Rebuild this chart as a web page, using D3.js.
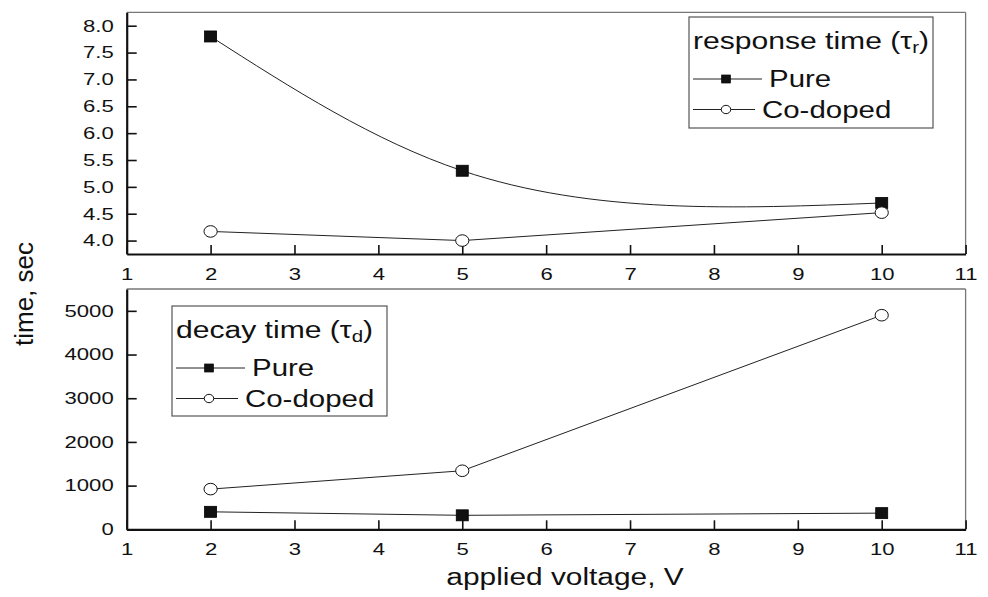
<!DOCTYPE html>
<html>
<head>
<meta charset="utf-8">
<script src="https://cdn.jsdelivr.net/npm/d3@7"></script>
<style>
  body { margin: 0; background: #fff; }
  svg { display: block; }
  text { font-family: "Liberation Sans", Arial, sans-serif; fill: #111; }
</style>
</head>
<body>
<div id="canvas"></div>
<script>
// data
var voltages = [2, 5, 10];
var responsePure = [7.8, 5.3, 4.7];
var responseCodoped = [4.17, 4.0, 4.52];
var decayPure = [400, 320, 370];
var decayCodoped = [920, 1340, 4900];

var xTicks = [1, 2, 3, 4, 5, 6, 7, 8, 9, 10, 11];
var responseTicks = [4.0, 4.5, 5.0, 5.5, 6.0, 6.5, 7.0, 7.5, 8.0];
var decayTicks = [0, 1000, 2000, 3000, 4000, 5000];
var seriesNames = ['Pure', 'Co-doped'];

var W = 988, H = 597;
var SX = 1.34; // tick labels: the original print is stretched sideways
var SXL = 1.28; // legend and axis titles

var svg = d3.select('#canvas').append('svg')
    .attr('width', W)
    .attr('height', H);

var x = d3.scaleLinear().domain([1, 11]).range([126.7, 965.6]);

// natural cubic spline, parametrised by chord length
function curveSpline(context) {
  var xs, ys;
  function slopes(t, v) {
    var n = v.length, M = new Array(n).fill(0);
    var a = [], b = [], c = [], r = [];
    for (var i = 1; i < n - 1; i++) {
      var h0 = t[i] - t[i-1], h1 = t[i+1] - t[i];
      a.push(h0); b.push(2 * (h0 + h1)); c.push(h1);
      r.push(6 * ((v[i+1] - v[i]) / h1 - (v[i] - v[i-1]) / h0));
    }
    var m = b.length;
    for (i = 1; i < m; i++) {
      var w = a[i] / b[i-1];
      b[i] -= w * c[i-1]; r[i] -= w * r[i-1];
    }
    for (i = m - 1; i >= 0; i--) {
      M[i+1] = (r[i] - (i < m - 1 ? c[i] * M[i+2] : 0)) / b[i];
    }
    var d = [];
    for (i = 0; i < n - 1; i++) {
      var h = t[i+1] - t[i];
      d.push((v[i+1] - v[i]) / h - h * (2 * M[i] + M[i+1]) / 6);
    }
    var hl = t[n-1] - t[n-2];
    d.push((v[n-1] - v[n-2]) / hl + hl * (M[n-2] + 2 * M[n-1]) / 6);
    return d;
  }
  return {
    areaStart: function() {}, areaEnd: function() {},
    lineStart: function() { xs = []; ys = []; },
    point: function(px, py) { xs.push(+px); ys.push(+py); },
    lineEnd: function() {
      var n = xs.length, i;
      if (!n) return;
      context.moveTo(xs[0], ys[0]);
      if (n < 3) { for (i = 1; i < n; i++) context.lineTo(xs[i], ys[i]); return; }
      var t = [0];
      for (i = 1; i < n; i++) t.push(t[i-1] + Math.hypot(xs[i] - xs[i-1], ys[i] - ys[i-1]));
      var dx = slopes(t, xs), dy = slopes(t, ys);
      for (i = 0; i < n - 1; i++) {
        var k = (t[i+1] - t[i]) / 3;
        context.bezierCurveTo(xs[i] + dx[i] * k, ys[i] + dy[i] * k,
          xs[i+1] - dx[i+1] * k, ys[i+1] - dy[i+1] * k, xs[i+1], ys[i+1]);
      }
    }
  };
}

function stretchedText(g, px, py, str, size, anchor, sx) {
  return g.append('text')
    .attr('transform', 'translate(' + px + ',' + py + ') scale(' + (sx || SXL) + ',1)')
    .attr('text-anchor', anchor || 'start')
    .style('font-size', size + 'px')
    .text(str);
}

function drawMarker(g, kind, cx, cy, s) {
  if (kind === 'square') {
    g.append('rect')
      .attr('x', cx - 6 * s).attr('y', cy - 5.5 * s)
      .attr('width', 12 * s).attr('height', 11 * s)
      .attr('fill', '#111').attr('stroke', '#000').attr('stroke-width', 0.8);
  } else {
    g.append('ellipse')
      .attr('cx', cx).attr('cy', cy)
      .attr('rx', 6.6 * s).attr('ry', 5.8 * s)
      .attr('fill', '#fff').attr('stroke', '#111').attr('stroke-width', 1);
  }
}

function panel(opts) {
  var g = svg.append('g');
  var y = d3.scaleLinear().domain(opts.domain).range([opts.bottom, opts.top]);

  // thin frame on top and right
  g.append('line').attr('x1', x.range()[0]).attr('x2', x.range()[1])
    .attr('y1', opts.top).attr('y2', opts.top)
    .attr('stroke', '#777').attr('stroke-width', 1.3);
  g.append('line').attr('x1', x.range()[1]).attr('x2', x.range()[1])
    .attr('y1', opts.top).attr('y2', opts.bottom)
    .attr('stroke', '#777').attr('stroke-width', 1.3);

  var xAxis = d3.axisBottom(x).tickValues(xTicks).tickSizeInner(-9).tickSizeOuter(0)
    .tickPadding(14).tickFormat(d3.format('d'));
  var gx = g.append('g').attr('transform', 'translate(0,' + opts.bottom + ')').call(xAxis);

  var yAxis = d3.axisLeft(y).tickValues(opts.ticks).tickSizeInner(-10).tickSizeOuter(0)
    .tickPadding(13).tickFormat(opts.format);
  var gy = g.append('g').attr('transform', 'translate(' + x.range()[0] + ',0)').call(yAxis);

  [gx, gy].forEach(function(a) {
    a.select('.domain').attr('stroke', '#111').attr('stroke-width', 2.2);
    a.selectAll('.tick line').attr('stroke', '#111').attr('stroke-width', 1.6);
    a.selectAll('.tick text')
      .style('font-size', '16.5px').attr('fill', '#111').style('font-family', null);
  });
  gx.selectAll('.tick text').attr('transform', 'scale(' + SX + ',1)');
  gy.selectAll('.tick text').attr('x', -13 / SX).attr('transform', 'scale(' + SX + ',1)');

  // series
  opts.series.forEach(function(s) {
    var pts = voltages.map(function(v, i) { return [x(v), y(s.values[i])]; });
    g.append('path')
      .attr('d', d3.line().curve(s.curve || d3.curveLinear)(pts))
      .attr('fill', 'none').attr('stroke', '#222').attr('stroke-width', 1);
  });
  opts.series.forEach(function(s) {
    voltages.forEach(function(v, i) { drawMarker(g, s.marker, x(v), y(s.values[i]), 1); });
  });

  // legend
  var L = opts.legend;
  g.append('rect').attr('x', L.x).attr('y', L.y).attr('width', L.w).attr('height', L.h)
    .attr('fill', '#fff').attr('stroke', '#555').attr('stroke-width', 1.2);
  var title = stretchedText(g, L.x + 4, L.y + 32, null, 23.5);
  title.append('tspan').text(opts.title + ' (\u03c4');
  title.append('tspan').attr('baseline-shift', '-30%').style('font-size', '16px').text(opts.sub);
  title.append('tspan').text(')');
  opts.series.forEach(function(s, i) {
    var ly = L.y + 62 + i * 30.5;
    var tx = i === 0 ? 80 : 73;
    g.append('line').attr('x1', L.x + 4).attr('x2', L.x + tx - 7)
      .attr('y1', ly).attr('y2', ly).attr('stroke', '#222').attr('stroke-width', 1);
    drawMarker(g, s.marker, L.x + 37, ly, 0.72);
    stretchedText(g, L.x + tx, ly + 8, seriesNames[i], 23);
  });
}

panel({
  top: 12.3, bottom: 254, domain: [3.75, 8.25], ticks: responseTicks, format: d3.format('.1f'),
  title: 'response time', sub: 'r',
  legend: { x: 689, y: 17, w: 244, h: 111 },
  series: [
    { values: responsePure, marker: 'square', curve: curveSpline },
    { values: responseCodoped, marker: 'circle' }
  ]
});

panel({
  top: 289, bottom: 529.3, domain: [0, 5500], ticks: decayTicks, format: d3.format('d'),
  title: 'decay time', sub: 'd',
  legend: { x: 172, y: 306, w: 215, h: 110 },
  series: [
    { values: decayPure, marker: 'square' },
    { values: decayCodoped, marker: 'circle' }
  ]
});

// axis titles
stretchedText(svg, 565, 585, 'applied voltage, V', 23.5, 'middle', 1.27);
svg.append('text')
  .attr('transform', 'translate(33,294) rotate(-90)')
  .attr('text-anchor', 'middle')
  .style('font-size', '26px')
  .text('time, sec');
</script>
</body>
</html>
